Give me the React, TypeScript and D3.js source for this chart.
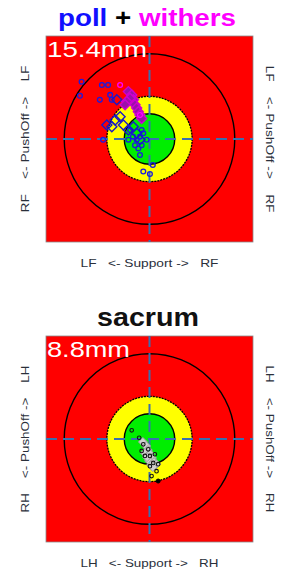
import React from "react";
import * as d3 from "d3";

// ---- data (mm, x: + = right, y: + = up) ----
const pollCirclesX = [-16.4, -16.8, -11.5, -10.0, -12.0, -9.5, -9.1, -11.2, -1.5, 0.1, 0.8, -2.3, -1.9, -4.7, -4.0, -3.1, -2.3, -1.5, -0.7, -3.5, -5.1, -2.7, -1.9];
const pollCirclesY = [13.9, 10.5, 13.1, 13.1, 9.5, 10.7, 9.5, -0.2, -7.9, -8.5, -6.3, -3.9, -1.5, 2.2, 0.6, -0.2, 0.6, 1.4, -0.2, -1.5, -0.2, -2.3, 2.2];
const pollDiamondsX = [-7.9, -7.1, -9.1, -10.3, -8.3, -6.3, -5.1, -3.9, -3.1, -2.3];
const pollDiamondsY = [9.5, 5.4, 3.0, 3.4, 4.6, 3.4, 2.2, 3.0, 1.4, -0.2];
const withersCirclesX = [-7.1, -2.3];
const withersCirclesY = [13.1, 5.8];
const withersDiamondsX = [-5.1, -4.3, -3.9, -3.5, -3.1, -2.7, -2.3, -1.9, -4.7, -5.5, -5.9];
const withersDiamondsY = [11.5, 10.7, 9.5, 8.3, 7.5, 6.6, 5.8, 5.0, 9.9, 9.1, 8.3];

const sacrumDiamondsX = [-1.6, -0.8, -0.4, -1.1, 0.1, 0.6, -0.1, 1.1, 0.4, 1.6, 0.8, -0.6];
const sacrumDiamondsY = [-0.7, -1.7, -2.7, -3.4, -3.6, -4.6, -5.3, -5.6, -6.3, -6.1, -6.8, -4.4];
const sacrumCirclesX = [-4.3, -2.5, -1.5, -1.9, -0.3, 0.1, 1.3, 0.9, 2.1, 1.7, 0.5, 0.1, -1.1];
const sacrumCirclesY = [2.1, 0.3, -1.3, -2.9, -2.5, -4.1, -3.7, -5.8, -6.1, -7.8, -9.0, -6.6, -4.1];
const sacrumLastX = [2.1];
const sacrumLastY = [-10.2];

const domain: [number, number] = [-25, 25];
const ringRadii = [20.6, 10.3, 6.1]; // outer, yellow, green (mm)

const FONT = "'Liberation Sans', Arial, sans-serif";

type Series = { xs: number[]; ys: number[]; shape: "circle" | "diamond"; stroke: string; fill: string; size: number; sw: number };

function Panel(props: {
  top: number;
  left: number;
  size: number;
  hsize: number;
  label: string;
  labelLen: number;
  sideL: string;
  sideR: string;
  bottom: string;
  series: Series[];
}) {
  const { top, left, size, hsize, label, labelLen, sideL, sideR, bottom, series } = props;
  const x = d3.scaleLinear().domain(domain).range([left, left + size]);
  const y = d3.scaleLinear().domain(domain).range([top + hsize, top]);
  const cx = x(0);
  const cy = y(0);
  const rx = (v: number) => x(v) - x(0);
  const diamond = (px: number, py: number, s: number) =>
    `M${px},${py - s}L${px + s},${py}L${px},${py + s}L${px - s},${py}Z`;
  const dashColor = "#3a6fae";
  const lab = { fontFamily: FONT, fontSize: 11, fill: "#2a2f3a" };
  return (
    <g>
      <rect x={left} y={top} width={size} height={hsize} fill="#ff0000" stroke="#8a8a8a" strokeWidth={0.8} />
      <circle cx={cx} cy={cy} r={rx(ringRadii[0])} fill="none" stroke="#000" strokeWidth={1.4} />
      <circle cx={cx} cy={cy} r={rx(ringRadii[1])} fill="#ffff00" stroke="#000" strokeWidth={1.3} strokeDasharray="2,1" />
      <circle cx={cx} cy={cy} r={rx(ringRadii[2])} fill="#00ee00" stroke="#000" strokeWidth={1.4} />
      <line x1={left} x2={left + size} y1={cy} y2={cy} stroke={dashColor} strokeWidth={2} strokeDasharray="11,6" />
      <line x1={cx} x2={cx} y1={top} y2={top + hsize} stroke={dashColor} strokeWidth={2} strokeDasharray="11,6" />
      {series.map((s, si) =>
        s.xs.map((v, i) =>
          s.shape === "circle" ? (
            <circle key={`${si}-${i}`} cx={x(v)} cy={y(s.ys[i])} r={s.size} fill={s.fill} stroke={s.stroke} strokeWidth={s.sw} />
          ) : (
            <path key={`${si}-${i}`} d={diamond(x(v), y(s.ys[i]), s.size)} fill={s.fill} stroke={s.stroke} strokeWidth={s.sw} />
          )
        )
      )}
      <text x={left + 1} y={top + 21} fill="#fff" fontFamily={FONT} fontSize={22} textLength={labelLen} lengthAdjust="spacingAndGlyphs">
        {label}
      </text>
      <text
        transform={`translate(${left - 17},${cy}) rotate(-90)`}
        textAnchor="middle"
        {...lab}
        textLength={147}
        lengthAdjust="spacingAndGlyphs"
        style={{ whiteSpace: "pre" }}
      >
        {sideL}
      </text>
      <text
        transform={`translate(${left + size + 13},${cy}) rotate(90)`}
        textAnchor="middle"
        {...lab}
        textLength={147}
        lengthAdjust="spacingAndGlyphs"
        style={{ whiteSpace: "pre" }}
      >
        {sideR}
      </text>
      <text
        x={cx}
        y={top + hsize + 25}
        textAnchor="middle"
        {...lab}
        textLength={138}
        lengthAdjust="spacingAndGlyphs"
        style={{ whiteSpace: "pre" }}
      >
        {bottom}
      </text>
    </g>
  );
}

export default function App() {
  const topSeries: Series[] = [
    { xs: pollCirclesX, ys: pollCirclesY, shape: "circle", stroke: "#1a1ae0", fill: "none", size: 2.4, sw: 1.3 },
    { xs: pollDiamondsX, ys: pollDiamondsY, shape: "diamond", stroke: "#1818c8", fill: "none", size: 5, sw: 1.4 },
    { xs: withersDiamondsX, ys: withersDiamondsY, shape: "diamond", stroke: "#d000d0", fill: "#9a10a8", size: 5, sw: 1.4 },
    { xs: withersCirclesX, ys: withersCirclesY, shape: "circle", stroke: "#ff00ff", fill: "none", size: 2.4, sw: 1.3 },
  ];
  const bottomSeries: Series[] = [
    { xs: sacrumDiamondsX, ys: sacrumDiamondsY, shape: "diamond", stroke: "#9a9a9a", fill: "#d0d0d0", size: 4.5, sw: 1 },
    { xs: sacrumCirclesX, ys: sacrumCirclesY, shape: "circle", stroke: "#111", fill: "none", size: 1.8, sw: 1.1 },
    { xs: sacrumLastX, ys: sacrumLastY, shape: "circle", stroke: "#000", fill: "#000", size: 2, sw: 1 },
  ];
  return (
    <svg width={283} height={577} style={{ position: "absolute", left: 0, top: 0, background: "#fff" }}>
      <text x={147} y={26} textAnchor="middle" fontFamily={FONT} fontWeight="bold" fontSize={23} textLength={178} lengthAdjust="spacingAndGlyphs">
        <tspan fill="#1010ff">poll</tspan>
        <tspan fill="#000"> + </tspan>
        <tspan fill="#ff00ff">withers</tspan>
      </text>
      <text x={148} y={326} textAnchor="middle" fontFamily={FONT} fontWeight="bold" fontSize={25} fill="#111" textLength={102} lengthAdjust="spacingAndGlyphs">
        sacrum
      </text>
      <Panel
        top={36}
        left={46}
        size={207}
        hsize={206}
        label="15.4mm"
        labelLen={100}
        sideL={"RF    <- PushOff ->    LF"}
        sideR={"LF    <- PushOff ->    RF"}
        bottom={"LF   <- Support ->   RF"}
        series={topSeries}
      />
      <Panel
        top={336}
        left={46}
        size={207}
        hsize={206}
        label="8.8mm"
        labelLen={83}
        sideL={"RH    <- PushOff ->    LH"}
        sideR={"LH    <- PushOff ->    RH"}
        bottom={"LH   <- Support ->   RH"}
        series={bottomSeries}
      />
    </svg>
  );
}
